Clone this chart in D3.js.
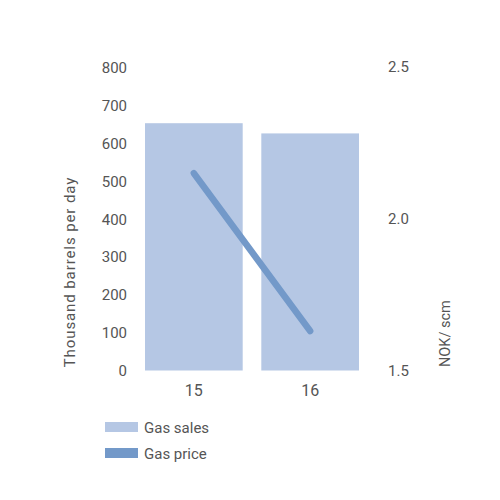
<!DOCTYPE html>
<html>
<head>
<meta charset="utf-8">
<script src="https://cdn.jsdelivr.net/npm/d3@7"></script>
<style>
  body { margin: 0; background: #fff; }
  text { font-family: "Roboto", sans-serif; fill: #555; }
</style>
</head>
<body>
<svg></svg>
<script>
const years = ["15", "16"];
const gasSales = [654, 627];
const gasPrice = [2.15, 1.63];
const leftTicks = [0, 100, 200, 300, 400, 500, 600, 700, 800];
const rightTicks = [1.5, 2.0, 2.5];

const barColor = "#b5c7e4";
const lineColor = "#7399c9";

const svg = d3.select('svg')
    .attr('width', 500)
    .attr('height', 500);

// scales
const xScale = d3.scaleBand()
    .domain(years)
    .range([145, 359])
    .paddingInner(0.16)
    .paddingOuter(0);

const yLeft = d3.scaleLinear()
    .domain([0, 800])
    .range([370.5, 68]);

const yRight = d3.scaleLinear()
    .domain([1.5, 2.5])
    .range([370.5, 67]);

// bars
svg.selectAll('rect.bar')
    .data(years)
    .enter()
    .append('rect')
    .attr('class', 'bar')
    .attr('x', d => xScale(d))
    .attr('y', (d, i) => yLeft(gasSales[i]))
    .attr('width', xScale.bandwidth())
    .attr('height', (d, i) => yLeft(0) - yLeft(gasSales[i]))
    .attr('fill', barColor);

// price line
const line = d3.line()
    .x(d => xScale(d.year) + xScale.bandwidth() / 2)
    .y(d => yRight(d.price));

svg.append('path')
    .datum(years.map((y, i) => ({ year: y, price: gasPrice[i] })))
    .attr('d', line)
    .attr('fill', 'none')
    .attr('stroke', lineColor)
    .attr('stroke-width', 6.5)
    .attr('stroke-linecap', 'round');

// left axis
const leftAxis = svg.append('g')
    .attr('transform', 'translate(127, 0)')
    .call(d3.axisLeft(yLeft).tickValues(leftTicks).tickSize(0).tickPadding(0));
leftAxis.select('.domain').remove();
leftAxis.selectAll('text')
    .attr('font-size', 15)
    .attr('font-family', null)
    .attr('fill', null);

// right axis
const rightAxis = svg.append('g')
    .attr('transform', 'translate(388, 0)')
    .call(d3.axisRight(yRight).tickValues(rightTicks).tickSize(0).tickPadding(0)
        .tickFormat(d3.format('.1f')));
rightAxis.select('.domain').remove();
rightAxis.selectAll('text')
    .attr('font-size', 15)
    .attr('font-family', null)
    .attr('fill', null);

// x axis
const xAxis = svg.append('g')
    .attr('transform', 'translate(0, 385)')
    .call(d3.axisBottom(xScale).tickSize(0).tickPadding(0));
xAxis.select('.domain').remove();
xAxis.selectAll('text')
    .attr('font-size', 16)
    .attr('font-family', null)
    .attr('fill', null);

// axis titles
svg.append('text')
    .attr('transform', 'translate(75, 272) rotate(-90)')
    .attr('text-anchor', 'middle')
    .attr('font-size', 15)
    .attr('letter-spacing', 0.9)
    .text('Thousand barrels per day');

svg.append('text')
    .attr('transform', 'translate(450, 367) rotate(-90)')
    .attr('text-anchor', 'start')
    .attr('font-size', 14.5)
    .text('NOK/ scm');

// legend
const legendItems = [
    { label: 'Gas sales', color: barColor },
    { label: 'Gas price', color: lineColor }
];
const legend = svg.selectAll('g.legend')
    .data(legendItems)
    .enter()
    .append('g')
    .attr('class', 'legend')
    .attr('transform', (d, i) => `translate(105, ${422 + i * 26})`);
legend.append('rect')
    .attr('width', 33)
    .attr('height', 10)
    .attr('fill', d => d.color);
legend.append('text')
    .attr('x', 39)
    .attr('y', 10.5)
    .attr('font-size', 15)
    .text(d => d.label);
</script>
</body>
</html>
